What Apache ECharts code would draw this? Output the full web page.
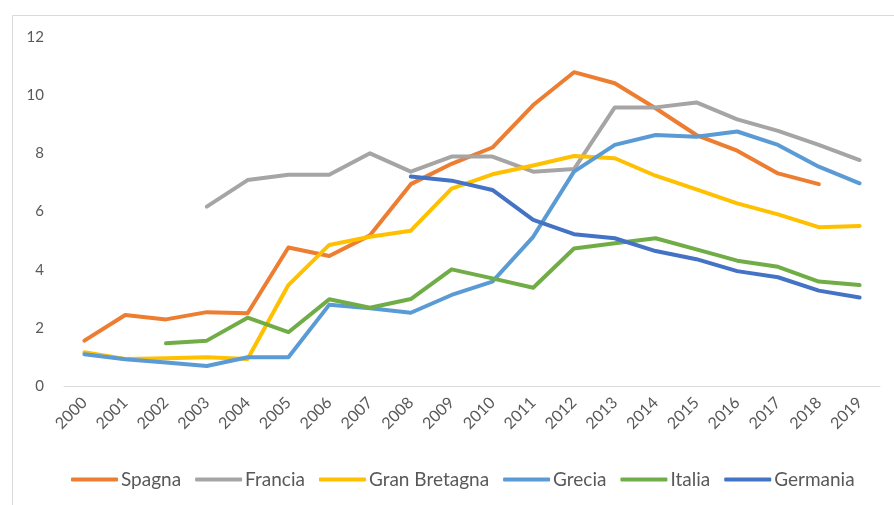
<!DOCTYPE html>
<html>
<head>
<meta charset="utf-8">
<script src="https://cdn.jsdelivr.net/npm/echarts@6/dist/echarts.min.js"></script>
<style>
  html, body { margin: 0; padding: 0; background: #fff; }
  #chart { width: 894px; height: 505px; }
</style>
</head>
<body>
<div id="chart"></div>
<script>
var years = ['2000', '2001', '2002', '2003', '2004', '2005', '2006', '2007', '2008', '2009',
  '2010', '2011', '2012', '2013', '2014', '2015', '2016', '2017', '2018', '2019'];

var spagna = [1.56, 2.44, 2.29, 2.54, 2.50, 4.76, 4.47, 5.18, 6.94, 7.64,
  8.20, 9.66, 10.79, 10.41, 9.55, 8.63, 8.09, 7.31, 6.94, null];
var francia = [null, null, null, 6.17, 7.08, 7.26, 7.26, 8.00, 7.37, 7.89,
  7.89, 7.37, 7.46, 9.58, 9.58, 9.75, 9.17, 8.77, 8.29, 7.77];
var granBretagna = [1.16, 0.93, 0.95, 0.99, 0.93, 3.47, 4.85, 5.13, 5.34, 6.79,
  7.28, 7.58, 7.91, 7.83, 7.23, 6.76, 6.28, 5.90, 5.46, 5.50];
var grecia = [1.09, 0.92, 0.81, 0.69, 0.99, 0.99, 2.79, 2.67, 2.52, 3.13,
  3.59, 5.13, 7.37, 8.29, 8.63, 8.57, 8.75, 8.29, 7.54, 6.97];
var italia = [null, null, 1.47, 1.56, 2.35, 1.85, 2.98, 2.69, 2.99, 4.01,
  3.70, 3.38, 4.73, 4.91, 5.08, 4.70, 4.31, 4.10, 3.59, 3.47];
var germania = [null, null, null, null, null, null, null, null, 7.20, 7.06,
  6.74, 5.71, 5.22, 5.08, 4.64, 4.36, 3.95, 3.74, 3.28, 3.04];

var seriesNames = ['Spagna', 'Francia', 'Gran Bretagna', 'Grecia', 'Italia', 'Germania'];
var seriesData = [spagna, francia, granBretagna, grecia, italia, germania];
var colors = ['#ED7D31', '#A5A5A5', '#FFC000', '#5B9BD5', '#70AD47', '#4472C4'];

var chart = echarts.init(document.getElementById('chart'));

var series = seriesNames.map(function (name, i) {
  return {
    name: name,
    type: 'line',
    data: seriesData[i],
    showSymbol: false,
    symbol: 'none',
    connectNulls: false,
    lineStyle: { width: 4, color: colors[i], cap: 'round', join: 'round' },
    itemStyle: { color: colors[i] }
  };
});

var option = {
  animation: false,
  color: colors,
  textStyle: { fontFamily: 'Lato, "Open Sans", sans-serif' },
  graphic: [{
    type: 'rect',
    left: 10,
    top: 13,
    shape: { width: 1000, height: 600 },
    style: { fill: 'none', stroke: '#d9d9d9', lineWidth: 1 },
    silent: true
  }],
  legend: {
    bottom: 11,
    left: 66,
    itemWidth: 47,
    itemHeight: 4,
    itemGap: 14,
    icon: 'roundRect',
    textStyle: { fontSize: 19, color: '#595959', fontFamily: 'Lato, "Open Sans", sans-serif', padding: [0, 0, 0, -2] },
    data: seriesNames
  },
  grid: {
    left: 64,
    right: 14,
    top: 37,
    bottom: 119,
    containLabel: false
  },
  xAxis: {
    type: 'category',
    data: years,
    boundaryGap: true,
    axisLine: { lineStyle: { color: '#d9d9d9', width: 1 } },
    axisTick: { show: false },
    axisLabel: {
      rotate: 45,
      fontSize: 16,
      color: '#595959',
      margin: 14,
      interval: 0
    }
  },
  yAxis: {
    type: 'value',
    min: 0,
    max: 12,
    interval: 2,
    axisLine: { show: false },
    axisTick: { show: false },
    splitLine: { show: false },
    axisLabel: { fontSize: 15, color: '#595959', margin: 20 }
  },
  series: series
};

chart.setOption(option);
</script>
</body>
</html>
